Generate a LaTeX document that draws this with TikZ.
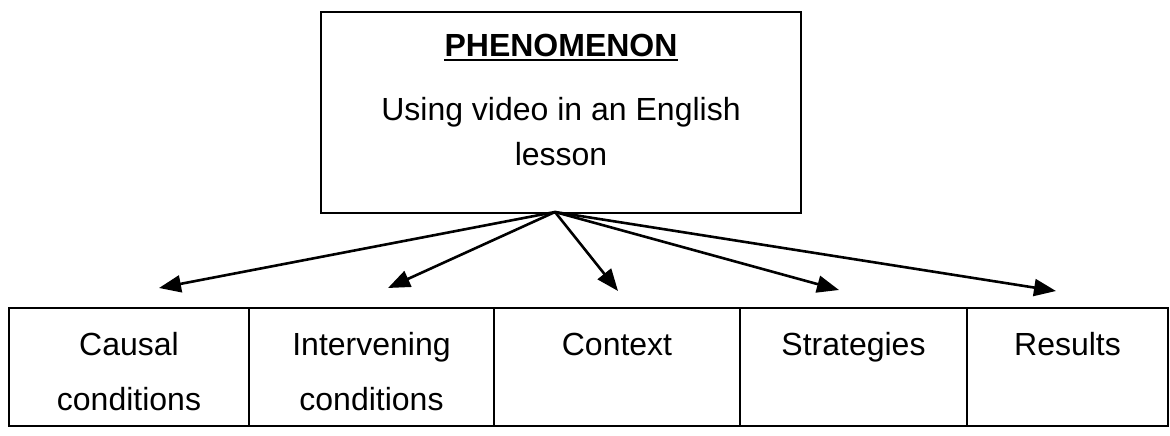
\documentclass[tikz,border=0pt]{standalone}
\usepackage{fontspec}
\setmainfont{Liberation Sans}
\usetikzlibrary{arrows.meta}
\begin{document}
\begin{tikzpicture}[x=1pt,y=-1pt,
  txt/.style={font=\fontsize{32}{32}\selectfont, inner sep=0pt, anchor=base},
  boxst/.style={draw, line width=2pt, inner sep=0pt},
  cellst/.style={draw, line width=2.5pt, inner sep=0pt, minimum height=118pt},
  arr/.style={line width=2.6pt, -{Triangle[length=22pt,width=17pt]}}]
\useasboundingbox (0,0) rectangle (1170,436);
% top box
\node[boxst, minimum width=480pt, minimum height=201pt] (phen) at (561,112.5) {};
\node[txt] (title) at (561,57) {\bfseries PHENOMENON};
\draw[line width=2.5pt] ([yshift=-3pt]title.base west) -- ([yshift=-3pt]title.base east);
\node[txt] (l1) at (561,120) {Using video in an English};
\node[txt] (l2) at (561,165) {lesson};
% table cells
\node[cellst, minimum width=240pt] (c1) at (129,367) {};
\node[cellst, minimum width=245pt] (c2) at (371.5,367) {};
\node[cellst, minimum width=246pt] (c3) at (617,367) {};
\node[cellst, minimum width=227pt] (c4) at (853.5,367) {};
\node[cellst, minimum width=201pt] (c5) at (1067.5,367) {};
\node[txt] (t1a) at (129,355) {Causal};
\node[txt] (t1b) at (129,410) {conditions};
\node[txt] (t2a) at (371.5,355) {Intervening};
\node[txt] (t2b) at (371.5,410) {conditions};
\node[txt] (t3) at (617,355) {Context};
\node[txt] (t4) at (853.5,355) {Strategies};
\node[txt] (t5) at (1067.5,355) {Results};
% arrows
\coordinate (o) at (555,212);
\coordinate (a1) at (159,288);
\coordinate (a2) at (388,288);
\coordinate (a3) at (618,291);
\coordinate (a4) at (839,290);
\coordinate (a5) at (1056,291);
\foreach \t in {a1,a2,a3,a4,a5} \draw[arr] (o) -- (\t);
\end{tikzpicture}
\end{document}
